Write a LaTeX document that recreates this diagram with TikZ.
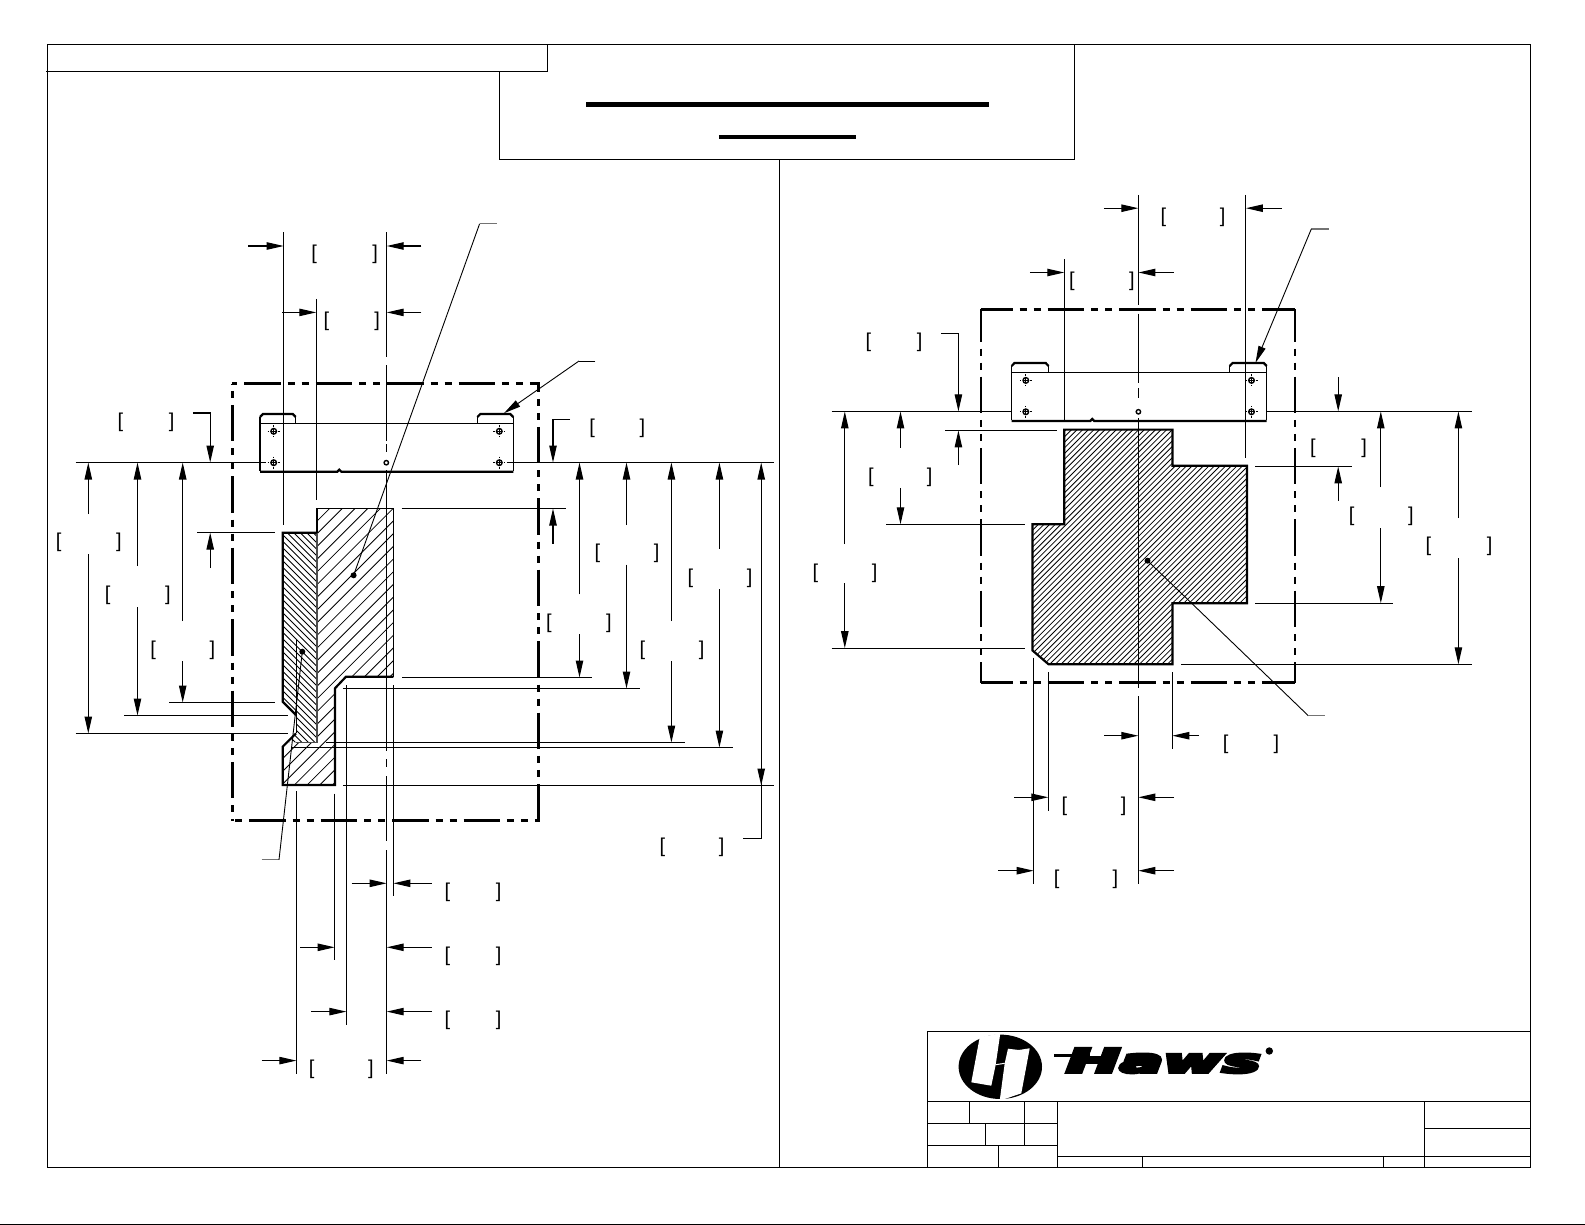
\documentclass[tikz,border=0pt]{standalone}
\usepackage{fontspec}
\usetikzlibrary{arrows.meta}
\setmainfont{Liberation Sans}
\newfontfamily\hawsfont[BoldItalicFeatures={FakeBold=9}]{DejaVu Sans}
\newcommand{\dimbrk}[1]{\makebox[#1]{\hspace{-0.7pt}[\hfill]\hspace{-0.7pt}}}
\tikzset{
  frameline/.style={line width=0.6pt},
  thinline/.style={line width=0.55pt},
  thickline/.style={line width=1.1pt},
  leaderline/.style={line width=0.45pt},
  stubline/.style={line width=0.6pt,black!55},
  hatchline/.style={line width=0.4pt},
  titlebar/.style={line width=2.3pt},
  phantomline/.style={line width=1.35pt,dash pattern=on 18.2pt off 3.5pt on 3.5pt off 3.5pt on 3.5pt off 3.5pt},
  dimarrow/.style={line width=0.55pt,-{Triangle[length=8.5pt,width=3.7pt]}},
  brk/.style={inner sep=0pt,font=\fontsize{10}{10}\selectfont}
}
\begin{document}
\begin{tikzpicture}[x=0.5pt,y=-0.5pt]
    \useasboundingbox (0,0) rectangle (1585,1225);

    % Sheet frame and title boxes
    \draw[frameline] (47.5,44.3) rectangle (1530.4,1167.5);
    \draw[frameline] (46,71.6) -- (547.4,71.6) -- (547.4,44.3);
    \draw[frameline] (499.5,71.6) -- (499.5,159.4) -- (1074.5,159.4) -- (1074.5,44.3);
    \draw[frameline] (779.6,159.4) -- (779.6,1167.5);
    \draw[titlebar] (586,104.8) -- (988.6,104.8);
    \draw[titlebar] (718.9,137.2) -- (856,137.2);
    \draw[line width=0.8pt] (0,1224.5) -- (1585,1224.5);

    % Left view: phantom outline
    \draw[phantomline,dash phase=29.5pt] (231.9,383.5) -- (539.5,383.5);
    \draw[phantomline,dash phase=27pt] (231.9,820.6) -- (539.5,820.6);
    \draw[phantomline,dash phase=25pt] (232.7,383.5) -- (232.7,821.2);
    \draw[phantomline,dash phase=14pt] (538.8,383.5) -- (538.8,821.2);

    % Left view: bracket part
    \draw[thinline] (260,423.3) -- (260,470.7);
    \draw[thinline] (513.3,423.3) -- (513.3,470.7);
    \draw[thinline] (260,423.3) -- (513.3,423.3);
    \draw[thinline] (260,423.3) -- (260,417);
    \draw[thinline] (295.7,423.3) -- (295.7,417);
    \draw[thinline] (477.3,423.3) -- (477.3,417);
    \draw[thinline] (513.3,423.3) -- (513.3,417);
    \draw[thickline] (260,417) -- (263,414) -- (292.7,414) -- (295.7,417);
    \draw[thickline] (477.3,417) -- (480.3,414) -- (510.3,414) -- (513.3,417);
    \draw[thickline] (260,471.7) -- (337.3,471.7) -- (339.3,469.7) -- (341.3,471.7) -- (513.3,471.7);
    \foreach \px/\py in {273.7/431.3,273.7/462.7,499.3/431.3,499.3/462.7} {
      \draw[line width=0.7pt] (\px,\py) circle (1.4pt);
      \draw[leaderline] ({\px-3},\py) -- ({\px+3},\py) ({\px},{\py-3}) -- ({\px},{\py+3});
      \draw[leaderline] ({\px-6},\py) -- ({\px-4.5},\py) ({\px+4.5},\py) -- ({\px+6},\py);
      \draw[leaderline] (\px,{\py-6}) -- (\px,{\py-4.5}) (\px,{\py+4.5}) -- (\px,{\py+6});
    }
    \draw[line width=0.7pt] (386.3,462.7) circle (1.1pt);

    % Left view: hatched sections
    \begin{scope}
    \clip (316.7,508.3) -- (393.3,508.3) -- (393.3,676.7) -- (346,676.7) -- (335,688.3) -- (335,785) -- (282.7,785) -- (282.7,746.7) -- (288,742.3) -- (316.7,742.3) -- cycle;
    \foreach \c in {800,812.7,...,1130} {
      \draw[hatchline] ({\c-500},500) -- ({\c-800},800);
    }
    \end{scope}
    \begin{scope}
    \clip (282.7,532.7) -- (316.7,532.7) -- (316.7,742.3) -- (289,742.3) -- (296,733.3) -- (296,715) -- (282.7,701.7) -- cycle;
    \foreach \c in {-460,-453.5,...,-210} {
      \draw[hatchline] ({500+\c},500) -- ({800+\c},800);
    }
    \end{scope}
    \draw[thinline] (316.7,508.3) -- (393.3,508.3) -- (393.3,676.7);
    \draw[thickline] (316.7,532.7) -- (316.7,508.3);
    \draw[line width=0.8pt,black!70] (316.7,532.7) -- (316.7,742.3) -- (296,742.3);
    \draw[thickline] (316.7,532.7) -- (282.7,532.7) -- (282.7,701.7) -- (296,715);
    \draw[thickline] (393.3,676.7) -- (346,676.7) -- (335,688.3) -- (335,785) -- (282.7,785) -- (282.7,746.7) -- (296,733.3);

    % Left view: centre line and extension lines
    \draw[thinline] (386.7,232.5) -- (386.7,356.7);
    \draw[thinline] (386.7,365) -- (386.7,441);
    \draw[thinline] (386.7,444) -- (386.7,452);
    \draw[thinline] (386.7,470) -- (386.7,751);
    \draw[thinline] (386.7,759) -- (386.7,767);
    \draw[thinline] (386.7,776) -- (386.7,841);
    \draw[thinline] (386.7,850) -- (386.7,1074);
    \draw[thinline] (283.7,232.5) -- (283.7,524.7);
    \draw[thinline] (316.3,299) -- (316.3,500.2);
    \draw[thinline] (296.4,791) -- (296.4,1074);
    \draw[thinline] (296.4,640) -- (296.4,733);
    \draw[thinline] (334.7,793.5) -- (334.7,960.2);
    \draw[thinline] (346.4,685.3) -- (346.4,1024.5);
    \draw[thinline] (393.4,685.3) -- (393.4,896.3);

    \draw[thinline] (75.5,462.5) -- (266,462.5);
    \draw[thinline] (506.7,462.5) -- (774,462.5);
    \draw[thinline] (197,532.6) -- (274.5,532.6);
    \draw[thinline] (401.5,508.5) -- (566.3,508.5);
    \draw[thinline] (169,702.5) -- (274.5,702.5);
    \draw[thinline] (124,715.5) -- (288,715.5);
    \draw[thinline] (75.5,733.5) -- (288,733.5);
    \draw[thinline] (402,677.5) -- (591.8,677.5);
    \draw[thinline] (342.9,688.5) -- (639.8,688.5);
    \draw[thinline] (325.5,742.5) -- (685,742.5);
    \draw[thinline] (290.8,747.5) -- (733,747.5);
    \draw[thinline] (343,785.5) -- (774,785.5);

    % Left view: dimensions above
    \draw[dimarrow] (248,246) -- (283.7,246);
    \draw[dimarrow] (421.4,246) -- (386.7,246);
    \draw[dimarrow] (282,312.4) -- (316.3,312.4);
    \draw[dimarrow] (421.4,312.4) -- (386.7,312.4);
    \node[brk] (topa) at (344.6,254.8) {\dimbrk{31.9pt}};
    \node[brk] (topb) at (351.8,321.5) {\dimbrk{26.8pt}};

    % Left view: dimensions on the left
    \draw[dimarrow] (192.9,413) -- (210.2,413) -- (210.2,462.5);
    \draw[dimarrow] (210.2,568) -- (210.2,532.6);
    \draw[dimarrow] (88.3,514) -- (88.3,462.5);
    \draw[dimarrow] (88.3,554) -- (88.3,733.5);
    \draw[dimarrow] (137.5,566) -- (137.5,462.5);
    \draw[dimarrow] (137.5,607) -- (137.5,715.5);
    \draw[dimarrow] (182.7,621) -- (182.7,462.5);
    \draw[dimarrow] (182.7,661) -- (182.7,702.5);
    \node[brk] (lefta) at (146,422.5) {\dimbrk{27pt}};
    \node[brk] (leftb) at (88.8,542.3) {\dimbrk{31.6pt}};
    \node[brk] (leftc) at (137.8,595) {\dimbrk{31.6pt}};
    \node[brk] (leftd) at (182.7,650.6) {\dimbrk{31pt}};

    % Left view: dimensions on the right
    \draw[dimarrow] (570,419.5) -- (553,419.5) -- (553,462.5);
    \draw[dimarrow] (553,543.7) -- (553,508.5);
    \draw[dimarrow] (579.5,594.3) -- (579.5,462.5);
    \draw[dimarrow] (579.5,634.3) -- (579.5,677.5);
    \draw[dimarrow] (626.5,525) -- (626.5,462.5);
    \draw[dimarrow] (626.5,564.6) -- (626.5,688.5);
    \draw[dimarrow] (671.4,621) -- (671.4,462.5);
    \draw[dimarrow] (671.4,661) -- (671.4,742.5);
    \draw[dimarrow] (719.4,548.8) -- (719.4,462.5);
    \draw[dimarrow] (719.4,589) -- (719.4,747.5);
    \draw[dimarrow] (761.2,785.5) -- (761.2,462.5);
    \draw[dimarrow] (761.2,745) -- (761.2,785.5);
    \draw[thinline] (743.4,838.2) -- (761.2,838.2) -- (761.2,785.5);
    \node[brk] (righta) at (617.3,428.4) {\dimbrk{26.6pt}};
    \node[brk] (rightb) at (627,553) {\dimbrk{31pt}};
    \node[brk] (rightc) at (720,578.7) {\dimbrk{31pt}};
    \node[brk] (rightd) at (578.8,623.3) {\dimbrk{31.4pt}};
    \node[brk] (righte) at (672,650.6) {\dimbrk{31pt}};
    \node[brk] (rightf) at (692,847.5) {\dimbrk{31pt}};

    % Left view: dimensions below
    \draw[dimarrow] (351.5,883.3) -- (386.7,883.3);
    \draw[dimarrow] (431.6,883.3) -- (393.4,883.3);
    \draw[dimarrow] (300,947.3) -- (334.7,947.3);
    \draw[dimarrow] (431.6,947.3) -- (386.7,947.3);
    \draw[dimarrow] (311.2,1011.6) -- (346.4,1011.6);
    \draw[dimarrow] (431.6,1011.6) -- (386.7,1011.6);
    \draw[dimarrow] (261.7,1060.6) -- (296.4,1060.6);
    \draw[dimarrow] (421.4,1060.6) -- (386.7,1060.6);
    \node[brk] (lowa) at (473,892.3) {\dimbrk{27pt}};
    \node[brk] (lowb) at (473,956.3) {\dimbrk{27pt}};
    \node[brk] (lowc) at (473,1020.4) {\dimbrk{27pt}};
    \node[brk] (lowd) at (341.3,1069.4) {\dimbrk{31pt}};

    % Left view: leaders
    \draw[leaderline] (353.6,575.3) -- (479.6,223.8);
    \draw[stubline] (479.6,223.8) -- (497.4,223.8);
    \fill (353.6,575.3) circle (1.5pt);
    \draw[stubline] (261.7,859.8) -- (279,859.8);
    \draw[leaderline] (279,859.8) -- (302.3,651.7);
    \fill (302.3,651.7) circle (1.5pt);
    \draw[leaderline] (595.4,361) -- (579,361);
    \draw[dimarrow,leaderline] (579,361) -- (504,413.2);

    % Right view: phantom outline
    \draw[phantomline,dash phase=2.1pt] (980.5,309.3) -- (1295.3,309.3);
    \draw[phantomline,dash phase=2.1pt] (980.5,682.4) -- (1295.3,682.4);
    \draw[phantomline,line width=1pt,dash phase=2.1pt] (981.2,309.3) -- (981.2,683);
    \draw[phantomline,line width=1pt,dash phase=2.1pt] (1294.6,309.3) -- (1294.6,683);

    % Right view: bracket part
    \draw[thinline] (1011.6,372.1) -- (1266.7,372.1);
    \draw[thinline] (1011.6,372.1) -- (1011.6,420);
    \draw[thinline] (1266.7,372.1) -- (1266.7,420);
    \draw[thinline] (1011.6,372.1) -- (1011.6,366);
    \draw[thinline] (1048.6,372.1) -- (1048.6,366);
    \draw[thinline] (1229.7,372.1) -- (1229.7,366);
    \draw[thinline] (1266.7,372.1) -- (1266.7,366);
    \draw[thickline] (1011.6,366) -- (1014.6,362.9) -- (1045.6,362.9) -- (1048.6,366);
    \draw[thickline] (1229.7,366) -- (1232.7,362.9) -- (1263.7,362.9) -- (1266.7,366);
    \draw[thickline] (1011.6,421) -- (1090.2,421) -- (1092.2,419) -- (1094.2,421) -- (1266.7,421);
    \foreach \px/\py in {1025.8/380.4,1025.8/411.8,1251.5/380.4,1251.5/411.8} {
      \draw[line width=0.7pt] (\px,\py) circle (1.4pt);
      \draw[leaderline] ({\px-3},\py) -- ({\px+3},\py) ({\px},{\py-3}) -- ({\px},{\py+3});
      \draw[leaderline] ({\px-6},\py) -- ({\px-4.5},\py) ({\px+4.5},\py) -- ({\px+6},\py);
      \draw[leaderline] (\px,{\py-6}) -- (\px,{\py-4.5}) (\px,{\py+4.5}) -- (\px,{\py+6});
    }
    \draw[line width=0.7pt] (1138.4,411.8) circle (1.1pt);

    % Right view: hatched section
    \begin{scope}
    \clip (1064.3,429.6) -- (1172.4,429.6) -- (1172.4,465.7) -- (1246.9,465.7) -- (1246.9,603.2) -- (1172.4,603.2) -- (1172.4,664.3) -- (1048.6,664.3) -- (1032.4,650.4) -- (1032.4,524.3) -- (1064.3,524.3) -- cycle;
    \foreach \c in {1490,1495.6,...,1915} {
      \draw[hatchline] ({\c-420},420) -- ({\c-680},680);
    }
    \end{scope}
    \draw[thickline] (1064.3,429.6) -- (1172.4,429.6) -- (1172.4,465.7) -- (1246.9,465.7) -- (1246.9,603.2) -- (1172.4,603.2) -- (1172.4,664.3) -- (1048.6,664.3) -- (1032.4,650.4) -- (1032.4,524.3) -- (1064.3,524.3) -- cycle;

    % Right view: centre line and extension lines
    \draw[thinline] (1138.4,195) -- (1138.4,305);
    \draw[thinline] (1138.4,313.6) -- (1138.4,383);
    \draw[thinline] (1138.4,388) -- (1138.4,397.5);
    \draw[thinline] (1138.4,418) -- (1138.4,688);
    \draw[thinline] (1138.4,696) -- (1138.4,884);
    \draw[thinline] (1064.3,259.3) -- (1064.3,421);
    \draw[thinline] (1245.9,195) -- (1245.9,457.5);
    \draw[thinline] (1033.7,657.5) -- (1033.7,884);
    \draw[thinline] (1048.3,672.3) -- (1048.3,810.7);
    \draw[thinline] (1172.3,672.3) -- (1172.3,748.7);

    \draw[thinline] (831.6,411.4) -- (1011.6,411.4);
    \draw[thinline] (1266.7,411.4) -- (1472,411.4);
    \draw[thinline] (945.2,430.4) -- (1056.7,430.4);
    \draw[thinline] (1255,466.4) -- (1351.9,466.4);
    \draw[thinline] (886.4,524.3) -- (1024.8,524.3);
    \draw[thinline] (1255,603.2) -- (1393.4,603.2);
    \draw[thinline] (831.6,648.2) -- (1024.8,648.2);
    \draw[thinline] (1181,664.3) -- (1472,664.3);

    % Right view: dimensions above
    \draw[dimarrow] (1103.9,208.2) -- (1138.4,208.2);
    \draw[dimarrow] (1281.9,208.2) -- (1245.9,208.2);
    \draw[dimarrow] (1029.9,272.5) -- (1064.3,272.5);
    \draw[dimarrow] (1173.9,272.5) -- (1138.4,272.5);
    \node[brk] (topc) at (1193,217.3) {\dimbrk{31pt}};
    \node[brk] (topd) at (1101.8,281.6) {\dimbrk{31.4pt}};

    % Right view: dimensions on the left
    \draw[dimarrow] (941.1,333.2) -- (958.4,333.2) -- (958.4,411.4);
    \draw[dimarrow] (958.4,465) -- (958.4,430.4);
    \draw[dimarrow] (900.5,447.9) -- (900.5,411.4);
    \draw[dimarrow] (900.5,487.9) -- (900.5,524.3);
    \draw[dimarrow] (844.8,544) -- (844.8,411.4);
    \draw[dimarrow] (844.8,583.2) -- (844.8,648.2);
    \node[brk] (lefte) at (894,342.3) {\dimbrk{27pt}};
    \node[brk] (leftf) at (900.3,477.3) {\dimbrk{30.7pt}};
    \node[brk] (leftg) at (845,573.4) {\dimbrk{31pt}};

    % Right view: dimensions on the right
    \draw[dimarrow] (1338.2,377) -- (1338.2,411.4);
    \draw[dimarrow] (1338.2,500.7) -- (1338.2,466.4);
    \draw[dimarrow] (1380.8,487) -- (1380.8,411.4);
    \draw[dimarrow] (1380.8,528.2) -- (1380.8,603.2);
    \draw[dimarrow] (1458.4,518.2) -- (1458.4,411.4);
    \draw[dimarrow] (1458.4,558.2) -- (1458.4,664.3);
    \node[brk] (rightg) at (1338.5,448) {\dimbrk{27pt}};
    \node[brk] (righth) at (1381.3,516.6) {\dimbrk{31pt}};
    \node[brk] (righti) at (1459,546.8) {\dimbrk{32pt}};

    % Right view: dimensions below
    \draw[dimarrow] (1104,735.7) -- (1138.3,735.7);
    \draw[dimarrow] (1199,735.7) -- (1172.3,735.7);
    \draw[dimarrow] (1014,797.3) -- (1048.3,797.3);
    \draw[dimarrow] (1174,797.3) -- (1138.3,797.3);
    \draw[dimarrow] (998,870.7) -- (1033.7,870.7);
    \draw[dimarrow] (1174,870.7) -- (1138.3,870.7);
    \node[brk] (lowe) at (1251,744.5) {\dimbrk{26.7pt}};
    \node[brk] (lowf) at (1094,806.5) {\dimbrk{31pt}};
    \node[brk] (lowg) at (1086,879.5) {\dimbrk{30.8pt}};

    % Right view: leaders
    \draw[stubline] (1328.5,229) -- (1311.3,229);
    \draw[dimarrow,leaderline] (1311.3,229) -- (1255.5,362.9);
    \draw[leaderline] (1147.5,560.7) -- (1308.3,715.7);
    \draw[stubline] (1308.3,715.7) -- (1325,715.7);
    \fill (1147.5,560.7) circle (1.5pt);

    % Title block
    \draw[frameline] (927.1,1167.5) -- (927.1,1031.3) -- (1530.4,1031.3);
    \draw[frameline] (927.1,1101.3) -- (1530.4,1101.3);
    \draw[frameline] (927.1,1123.3) -- (1057.3,1123.3);
    \draw[frameline] (927.1,1145.3) -- (1057.3,1145.3);
    \draw[frameline] (1057.3,1101.3) -- (1057.3,1167.5);
    \draw[frameline] (969.6,1101.3) -- (969.6,1123.3);
    \draw[frameline] (1024.7,1101.3) -- (1024.7,1145.3);
    \draw[frameline] (985.5,1123.3) -- (985.5,1145.3);
    \draw[frameline] (998.6,1145.3) -- (998.6,1167.5);
    \draw[frameline] (1424.3,1101.3) -- (1424.3,1167.5);
    \draw[frameline] (1424.3,1128.3) -- (1530.4,1128.3);
    \draw[frameline] (1057.3,1156.5) -- (1530.4,1156.5);
    \draw[frameline] (1142.2,1156.5) -- (1142.2,1167.5);
    \draw[frameline] (1383.5,1156.5) -- (1383.5,1167.5);

    % Logo
    \fill (1000.3,1066.8) ellipse (20.85pt and 16.1pt);
    \fill[white] (979.7,1037.3) -- (1000.3,1033.3) -- (995.7,1064.7) -- (991.3,1085.7) -- (971.3,1082.3) -- cycle;
    \fill[white] (1008,1048.7) -- (1018.7,1050) -- (1029.7,1048.3) -- (1021.3,1093.3) -- (999.7,1100.7) -- (1004.7,1063.3) -- cycle;
    \draw[white,line width=0.5pt] (995.7,1064.7) -- (1004.7,1063.3);
    \node[inner sep=0pt,anchor=south west] (hawsword) at (1066,1073.3) {\resizebox{97pt}{12pt}{\hawsfont\bfseries\itshape Haws}};
    \draw[line width=1.3pt] (1054,1055.7) -- (1090,1055.7);
    \fill (1269.3,1051) circle (1.85pt);

\end{tikzpicture}
\end{document}
